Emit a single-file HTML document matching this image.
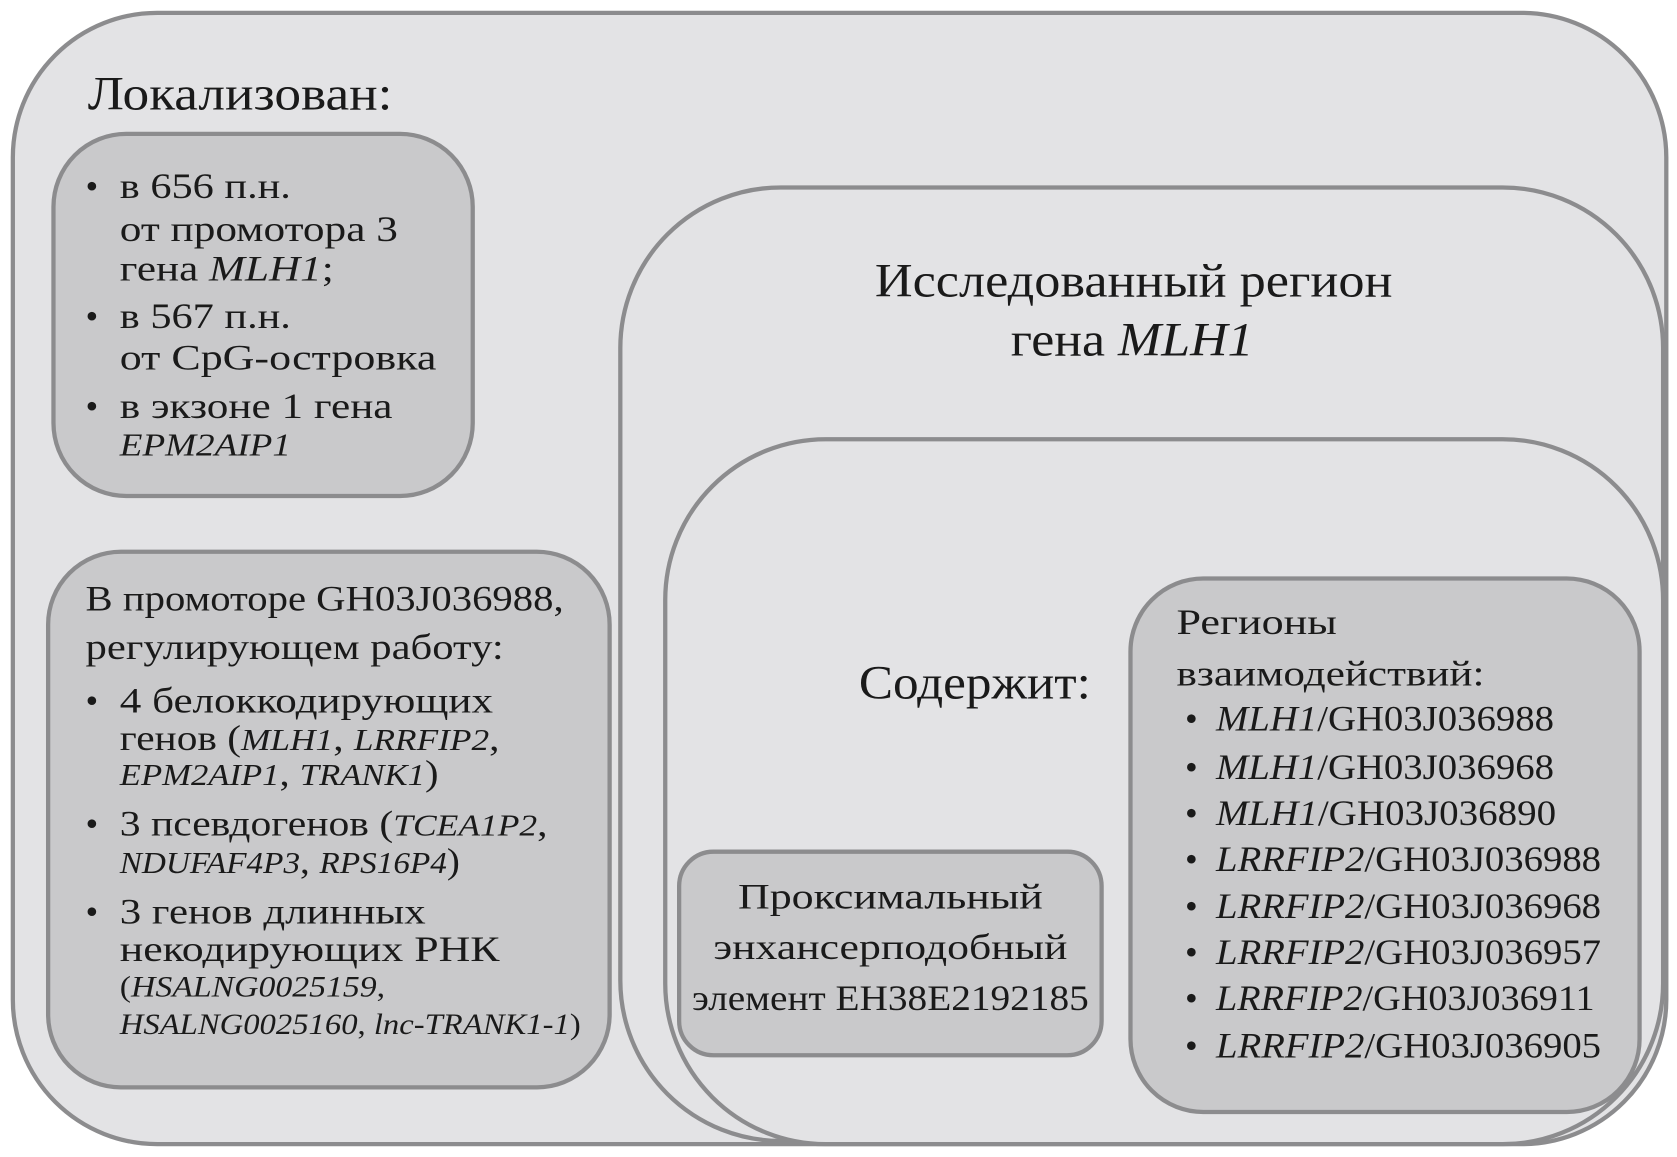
<!DOCTYPE html>
<html><head><meta charset="utf-8"><style>
html,body{margin:0;padding:0;background:#fff;}
svg{display:block;}
text{font-family:"Liberation Serif","DejaVu Serif",serif;fill:#1a1a1a;}
.i{font-style:italic;}
</style></head><body>
<svg width="1677" height="1157" viewBox="0 0 1568 1080" preserveAspectRatio="none" xmlns="http://www.w3.org/2000/svg">
<g stroke="#8c8c8e" stroke-width="4">
<rect x="12" y="12" width="1546" height="1056" rx="135" fill="#e3e3e5"/>
<rect x="50" y="125" width="392" height="338" rx="68" fill="#c9c9cb"/>
<rect x="45" y="515" width="525" height="500" rx="68" fill="#c9c9cb"/>
<rect x="580" y="175" width="975" height="890" rx="150" fill="#e3e3e5"/>
<rect x="622" y="410" width="933" height="658" rx="150" fill="#e3e3e5"/>
<rect x="635" y="795" width="395" height="190" rx="32" fill="#c9c9cb"/>
<rect x="1057" y="540" width="476" height="498" rx="68" fill="#c9c9cb"/>
</g>
<g font-size="40" lengthAdjust="spacingAndGlyphs">
<text x="82" y="102" font-size="44" textLength="285" lengthAdjust="spacingAndGlyphs">Локализован:</text>

<g font-size="34">
<text x="80" y="185">•</text>
<text x="112" y="185" textLength="160" lengthAdjust="spacingAndGlyphs">в 656 п.н.</text>
<text x="112" y="225" textLength="260" lengthAdjust="spacingAndGlyphs">от промотора 3</text>
<text x="112" y="262" textLength="200" lengthAdjust="spacingAndGlyphs">гена <tspan class="i">MLH1</tspan>;</text>
<text x="80" y="306">•</text>
<text x="112" y="306" textLength="160" lengthAdjust="spacingAndGlyphs">в 567 п.н.</text>
<text x="112" y="345" textLength="296" lengthAdjust="spacingAndGlyphs">от CpG-островка</text>
<text x="80" y="390">•</text>
<text x="112" y="390" textLength="255" lengthAdjust="spacingAndGlyphs">в экзоне 1 гена</text>
<text x="112" y="425" class="i" font-size="30" textLength="160" lengthAdjust="spacingAndGlyphs">EPM2AIP1</text>
</g>

<g font-size="34">
<text x="80" y="570" textLength="447" lengthAdjust="spacingAndGlyphs">В промоторе GH03J036988,</text>
<text x="80" y="615" textLength="391" lengthAdjust="spacingAndGlyphs">регулирующем работу:</text>
<text x="80" y="665">•</text>
<text x="112" y="665" textLength="349" lengthAdjust="spacingAndGlyphs">4 белоккодирующих</text>
<text x="112" y="700" textLength="355" lengthAdjust="spacingAndGlyphs">генов (<tspan class="i" font-size="29">MLH1</tspan>, <tspan class="i" font-size="29">LRRFIP2</tspan>,</text>
<text x="112" y="733" textLength="298" lengthAdjust="spacingAndGlyphs"><tspan class="i" font-size="29">EPM2AIP1</tspan>, <tspan class="i" font-size="29">TRANK1</tspan>)</text>
<text x="80" y="780">•</text>
<text x="112" y="780" textLength="400" lengthAdjust="spacingAndGlyphs">3 псевдогенов (<tspan class="i" font-size="29">TCEA1P2</tspan>,</text>
<text x="112" y="815" textLength="318" lengthAdjust="spacingAndGlyphs"><tspan class="i" font-size="29">NDUFAF4P3</tspan>, <tspan class="i" font-size="29">RPS16P4</tspan>)</text>
<text x="80" y="862">•</text>
<text x="112" y="862" textLength="286" lengthAdjust="spacingAndGlyphs">3 генов длинных</text>
<text x="112" y="897" textLength="355" lengthAdjust="spacingAndGlyphs">некодирующих РНК</text>
<text x="112" y="930" font-size="28" textLength="248" lengthAdjust="spacingAndGlyphs">(<tspan class="i">HSALNG0025159</tspan>,</text>
<text x="112" y="965" font-size="28" textLength="431" lengthAdjust="spacingAndGlyphs"><tspan class="i">HSALNG0025160</tspan>, <tspan class="i">lnc-TRANK1-1</tspan>)</text>
</g>

<text x="818" y="277" font-size="44" textLength="484" lengthAdjust="spacingAndGlyphs">Исследованный регион</text>
<text x="945" y="332" font-size="44" textLength="227" lengthAdjust="spacingAndGlyphs">гена <tspan class="i">MLH1</tspan></text>
<text x="803" y="652" font-size="44" textLength="217" lengthAdjust="spacingAndGlyphs">Содержит:</text>

<g font-size="34">
<text x="690" y="848" textLength="285" lengthAdjust="spacingAndGlyphs">Проксимальный</text>
<text x="667" y="895" textLength="331" lengthAdjust="spacingAndGlyphs">энхансерподобный</text>
<text x="647" y="943" textLength="371" lengthAdjust="spacingAndGlyphs">элемент EH38E2192185</text>
</g>

<g font-size="34">
<text x="1100" y="592" textLength="150" lengthAdjust="spacingAndGlyphs">Регионы</text>
<text x="1100" y="640" textLength="288" lengthAdjust="spacingAndGlyphs">взаимодействий:</text>
<text x="1108" y="682">•</text><text x="1137" y="682" textLength="316" lengthAdjust="spacingAndGlyphs"><tspan class="i">MLH1</tspan>/GH03J036988</text>
<text x="1108" y="727">•</text><text x="1137" y="727" textLength="316" lengthAdjust="spacingAndGlyphs"><tspan class="i">MLH1</tspan>/GH03J036968</text>
<text x="1108" y="770">•</text><text x="1137" y="770" textLength="318" lengthAdjust="spacingAndGlyphs"><tspan class="i">MLH1</tspan>/GH03J036890</text>
<text x="1108" y="813">•</text><text x="1137" y="813" textLength="360" lengthAdjust="spacingAndGlyphs"><tspan class="i">LRRFIP2</tspan>/GH03J036988</text>
<text x="1108" y="857">•</text><text x="1137" y="857" textLength="360" lengthAdjust="spacingAndGlyphs"><tspan class="i">LRRFIP2</tspan>/GH03J036968</text>
<text x="1108" y="900">•</text><text x="1137" y="900" textLength="360" lengthAdjust="spacingAndGlyphs"><tspan class="i">LRRFIP2</tspan>/GH03J036957</text>
<text x="1108" y="943">•</text><text x="1137" y="943" textLength="354" lengthAdjust="spacingAndGlyphs"><tspan class="i">LRRFIP2</tspan>/GH03J036911</text>
<text x="1108" y="987">•</text><text x="1137" y="987" textLength="360" lengthAdjust="spacingAndGlyphs"><tspan class="i">LRRFIP2</tspan>/GH03J036905</text>
</g>
</g>
</svg>
</body></html>
